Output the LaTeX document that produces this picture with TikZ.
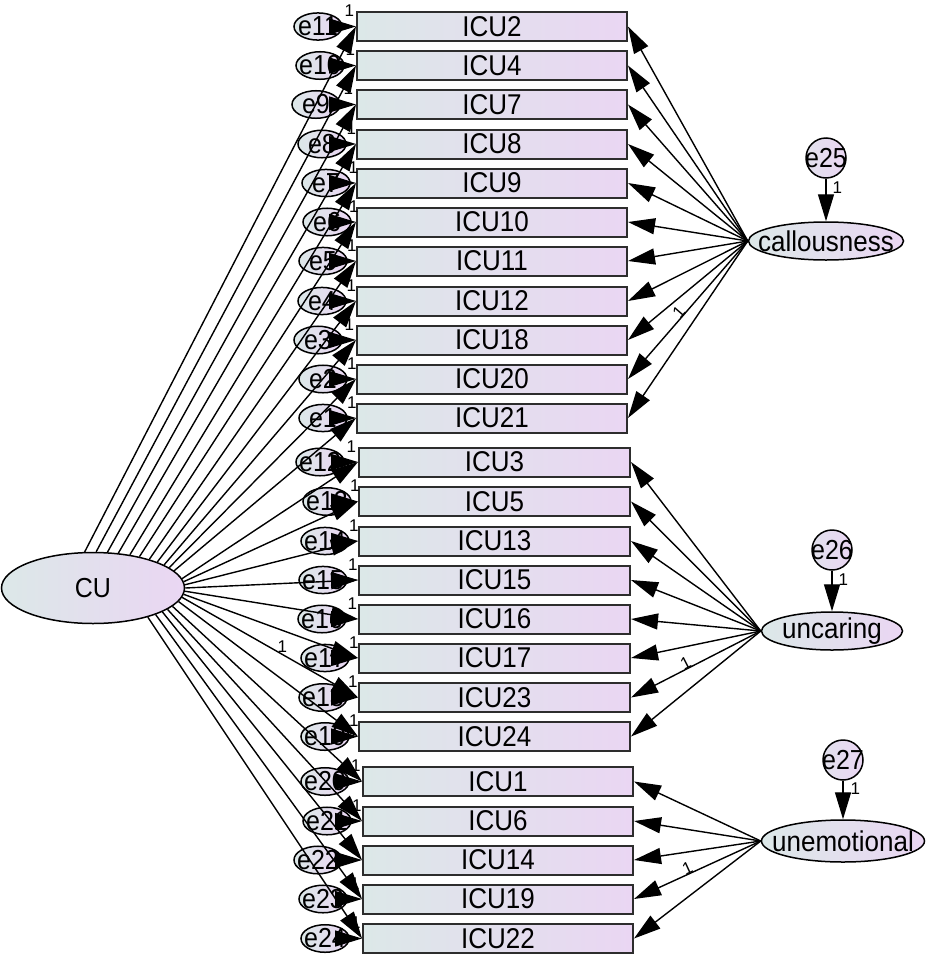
\documentclass[tikz,border=0pt]{standalone}
\usepackage{graphicx}
\usepackage{fontspec}
\setmainfont{Liberation Sans}
\usetikzlibrary{arrows.meta,shapes.geometric}
\definecolor{gl}{RGB}{220,232,232}
\definecolor{gr}{RGB}{234,214,243}
\definecolor{bd}{RGB}{45,45,45}
\newcommand{\ys}[1]{\scalebox{1}[1.1]{#1}}
\newcommand{\zb}[1]{\makebox[0pt]{\ys{#1}}}
\tikzset{
  itembox/.style={rectangle, draw=bd, line width=2pt, left color=gl, right color=gr,
    minimum width=270pt, minimum height=29pt, inner sep=0pt, font=\fontsize{26}{26}\selectfont},
  errell/.style={ellipse, draw=black, line width=1.5pt, left color=gl, right color=gr,
    minimum width=48pt, minimum height=26pt, inner sep=0pt, font=\fontsize{25}{25}\selectfont},
  latent/.style={ellipse, draw=black, line width=1.5pt, left color=gl, right color=gr,
    inner sep=0pt, font=\fontsize{26}{26}\selectfont},
  errcirc/.style={circle, draw=black, line width=1.5pt, left color=gl!60!gr, right color=gr,
    minimum size=40pt, inner sep=0pt, font=\fontsize{25}{25}\selectfont},
  link/.style={line width=1.4pt, -{Triangle[length=27pt,width=16pt]}},
  one/.style={font=\fontsize{17}{17}\selectfont, inner sep=1pt},
}
\begin{document}
\begin{tikzpicture}[x=1pt,y=-1pt]
\useasboundingbox (0,0) rectangle (927,956);

% latent variables
\node[latent, minimum width=183pt, minimum height=71pt, font=\fontsize{25}{25}\selectfont] (CU) at (93,588) {\ys{CU}};
\node[latent, minimum width=155pt, minimum height=38pt] (cal) at (826,241) {\zb{callousness}};
\node[latent, minimum width=141pt, minimum height=38pt] (unc) at (832,631) {\zb{uncaring}};
\node[latent, minimum width=163pt, minimum height=42pt] (une) at (843,841) {\zb{unemotional}};
\node[errcirc] (e25) at (826,158) {\zb{e25}};
\node[errcirc] (e26) at (832,550) {\zb{e26}};
\node[errcirc] (e27) at (843,760) {\zb{e27}};

% items and their errors
\foreach \nm/\yy/\ee/\ex in {ICU2/26.5/e11/318, ICU4/65.5/e10/320, ICU7/104.5/e9/316,
  ICU8/144/e8/322, ICU9/183/e7/326, ICU10/222/e6/327, ICU11/261/e5/323,
  ICU12/301/e4/322, ICU18/340/e3/318, ICU20/379/e2/323, ICU21/418/e1/323}{
  \node[errell] (\ee) at (\ex,\yy) {\zb{\ee}};
  \node[itembox] (\nm) at (492,\yy) {\ys{\nm}};
}
\foreach \nm/\yy/\ee/\ex in {ICU3/462/e12/320, ICU5/501.5/e13/327, ICU13/541/e14/325,
  ICU15/580/e15/323, ICU16/619/e16/322, ICU17/658/e17/325, ICU23/697.5/e18/323,
  ICU24/736.5/e19/325}{
  \node[errell] (\ee) at (\ex,\yy) {\zb{\ee}};
  \node[itembox, minimum width=271pt] (\nm) at (494.5,\yy) {\ys{\nm}};
}
\foreach \nm/\yy/\ee/\ex in {ICU1/781.5/e20/325, ICU6/821/e21/327, ICU14/860/e22/318,
  ICU19/899/e23/323, ICU22/938.5/e24/325}{
  \node[errell] (\ee) at (\ex,\yy) {\zb{\ee}};
  \node[itembox] (\nm) at (498,\yy) {\ys{\nm}};
}

% disturbance arrows
\draw[link] (e25) -- (cal) node[one, pos=0.22, right=5pt] {1};
\draw[link] (e26) -- (unc) node[one, pos=0.22, right=5pt] {1};
\draw[link] (e27) -- (une) node[one, pos=0.2, right=6pt] {1};

% error arrows
\foreach \nm/\ee in {ICU2/e11, ICU4/e10, ICU7/e9, ICU8/e8, ICU9/e7, ICU10/e6, ICU11/e5,
  ICU12/e4, ICU18/e3, ICU20/e2, ICU21/e1, ICU3/e12, ICU5/e13, ICU13/e14, ICU15/e15,
  ICU16/e16, ICU17/e17, ICU23/e18, ICU24/e19, ICU1/e20, ICU6/e21, ICU14/e22,
  ICU19/e23, ICU22/e24}{
  \draw[link] (\ee) -- (\nm) node[one, midway, above=8pt] {1};
}

% general factor loadings
\foreach \nm/\a in {ICU2/103, ICU4/85, ICU7/68, ICU8/54, ICU9/42, ICU10/34, ICU11/27,
  ICU12/22, ICU18/18, ICU20/15, ICU21/12, ICU3/6, ICU5/4, ICU13/2, ICU15/0, ICU16/-2,
  ICU17/-4, ICU24/-9, ICU1/-13, ICU6/-16, ICU14/-19, ICU19/-23, ICU22/-28}{
  \draw[link] (CU.\a) -- (\nm.west);
}
\draw[link] (CU.-6) -- (ICU23.west) node[one, pos=0.57, above=0pt] {1};

% specific factor loadings
\foreach \nm in {ICU2, ICU4, ICU7, ICU8, ICU9, ICU10, ICU11, ICU12, ICU18, ICU21}{
  \draw[link] (cal.west) -- (\nm.east);
}
\draw[link] (cal.west) -- (ICU20.east) node[one, pos=0.54, sloped, above=-2pt] {1};
\foreach \nm in {ICU3, ICU5, ICU13, ICU15, ICU16, ICU17, ICU24}{
  \draw[link] (unc.west) -- (\nm.east);
}
\draw[link] (unc.west) -- (ICU23.east) node[one, pos=0.56, sloped, above=-2pt] {1};
\foreach \nm in {ICU1, ICU6, ICU14, ICU22}{
  \draw[link] (une.west) -- (\nm.east);
}
\draw[link] (une.west) -- (ICU19.east) node[one, pos=0.56, sloped, above=-2pt] {1};
\end{tikzpicture}
\end{document}
